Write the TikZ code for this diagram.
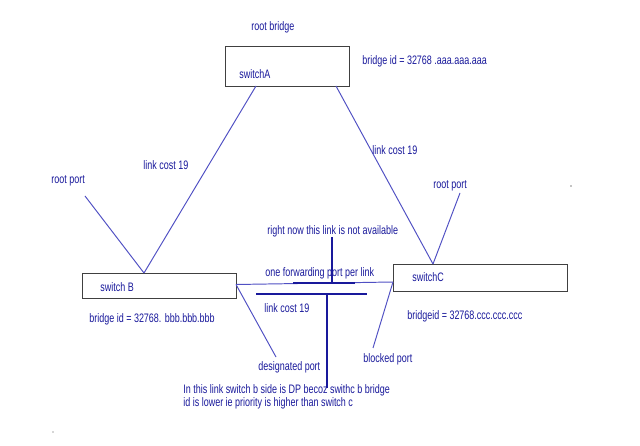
\documentclass[tikz,border=0pt]{standalone}
\usepackage{fontspec}
\setmainfont[FakeStretch=0.73]{Liberation Sans}
\definecolor{penblue}{RGB}{80,80,195}
\definecolor{inkblue}{RGB}{25,25,155}
\tikzset{
  box/.style={draw=black!75, line width=0.55pt, inner sep=0pt},
  lbl/.style={text=inkblue, font=\fontsize{7}{8}\selectfont, inner sep=0pt, anchor=west},
  wire/.style={draw=penblue, line width=0.55pt},
  inkline/.style={draw=inkblue, line width=0.7pt}
}
\begin{document}
\begin{tikzpicture}[x=0.02cm, y=-0.02cm]
\useasboundingbox (0,0) rectangle (640,446);

% switches
\node [box, minimum width=2.48cm, minimum height=0.8cm] (swA) at (287,66) {};
\node [box, minimum width=3.08cm, minimum height=0.5cm] (swB) at (159,285.5) {};
\node [box, minimum width=3.48cm, minimum height=0.54cm] (swC) at (480,277.5) {};

% port points
\coordinate (aL) at (256,86);
\coordinate (aR) at (336,86);
\coordinate (bT) at (144,273);
\coordinate (bR) at (236,284.5);
\coordinate (cT) at (433,264);
\coordinate (cL) at (393,282);
\coordinate (rpB) at (85,196);
\coordinate (rpC) at (460,193);
\coordinate (dpE) at (276,357);
\coordinate (bpE) at (373,348);
\coordinate (m1) at (293,283);
\coordinate (m2) at (355,283);
\coordinate (vT) at (332,237);
\coordinate (vB) at (332,283);
\coordinate (hL) at (256,294);
\coordinate (hR) at (367,294);
\coordinate (wT) at (327,294);
\coordinate (wB) at (327,388);

% links
\draw [wire] (aL) -- (bT);
\draw [wire] (aR) -- (cT);
\draw [wire] (rpB) -- (bT);
\draw [wire] (cT) -- (rpC);
\draw [wire] (bR) -- (cL);
\draw [inkline] (m1) -- (m2);
\draw [inkline] (vT) -- (vB);
\draw [inkline] (hL) -- (hR);
\draw [inkline] (wT) -- (wB);
\draw [wire] (bR) -- (dpE);
\draw [wire] (cL) -- (bpE);

% labels
\node [lbl] (rb) at (251,27) {root bridge};
\node [lbl] (idA) at (362,61) {bridge id = 32768 .aaa.aaa.aaa};
\node [lbl] (nA) at (239,74) {switchA};
\node [lbl] (lcL) at (143,165) {link cost 19};
\node [lbl] (lcR) at (372,150) {link cost 19};
\node [lbl] (rpLb) at (51,181) {root port};
\node [lbl] (rpRb) at (433,186) {root port};
\node [lbl] (nB) at (100,287) {switch B};
\node [lbl] (idB) at (89,319) {bridge id = 32768. bbb.bbb.bbb};
\node [lbl] (nC) at (412,277) {switchC};
\node [lbl] (idC) at (407,316) {bridgeid = 32768.ccc.ccc.ccc};
\node [lbl] (na) at (267,231) {right now this link is not available};
\node [lbl] (fw) at (265,273) {one forwarding port per link};
\node [lbl] (lcM) at (264,308) {link cost 19};
\node [lbl] (dp) at (258,367) {designated port};
\node [lbl] (bp) at (363,359) {blocked port};
\node [lbl] (n1) at (183,390) {In this link switch b side is DP becoz swithc b bridge};
\node [lbl] (n2) at (183,403) {id is lower ie priority is higher than switch c};

% specks
\fill [black] (571,186) circle (0.6);
\fill [black!70] (53,432) circle (0.6);
\end{tikzpicture}
\end{document}
